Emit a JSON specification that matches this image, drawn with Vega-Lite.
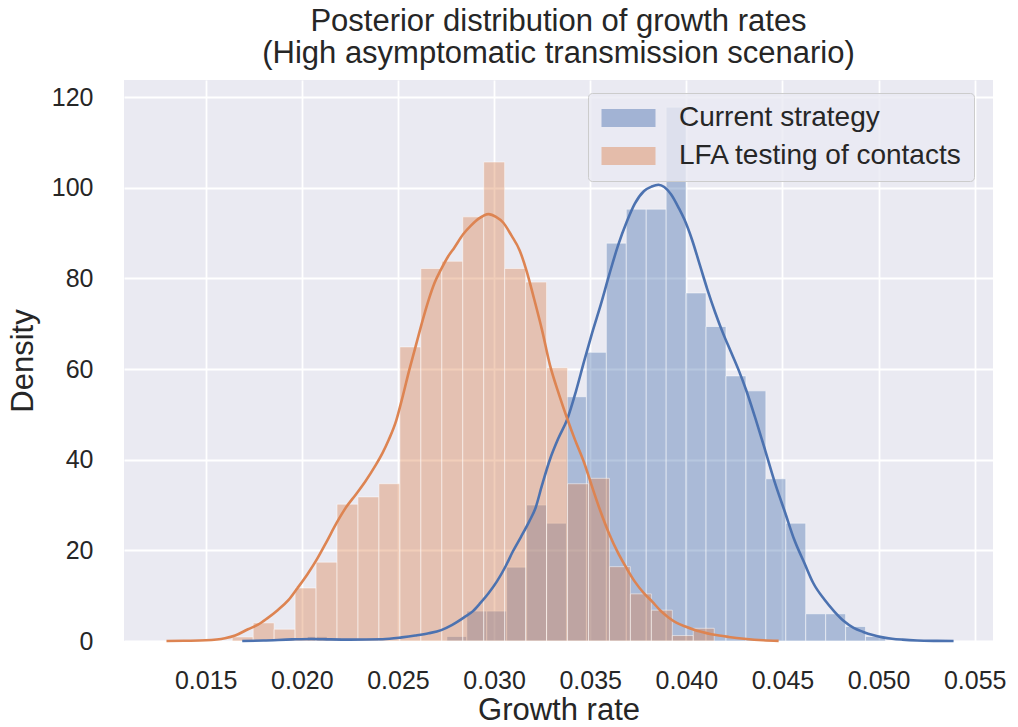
{
  "$schema": "https://vega.github.io/schema/vega-lite/v6.json",
  "autosize": {"type": "none"},
  "padding": {"left": 124, "top": 80, "right": 25, "bottom": 86},
  "width": 869,
  "height": 561,
  "background": "white",
  "title": {
    "text": ["Posterior distribution of growth rates", "(High asymptomatic transmission scenario)"],
    "font": "Liberation Sans",
    "fontSize": 31,
    "fontWeight": "normal",
    "color": "#262626",
    "lineHeight": 32,
    "offset": 10,
    "anchor": "middle"
  },
  "datasets": {
    "bars": [
      {"series": "Current strategy", "start": 0.020284, "end": 0.021321, "density": 1.0},
      {"series": "Current strategy", "start": 0.027543, "end": 0.02858, "density": 1.0},
      {"series": "Current strategy", "start": 0.02858, "end": 0.029617, "density": 6.6},
      {"series": "Current strategy", "start": 0.029617, "end": 0.030654, "density": 6.6},
      {"series": "Current strategy", "start": 0.030654, "end": 0.031691, "density": 16.3},
      {"series": "Current strategy", "start": 0.031691, "end": 0.032728, "density": 30.0},
      {"series": "Current strategy", "start": 0.032728, "end": 0.033765, "density": 26.0},
      {"series": "Current strategy", "start": 0.033765, "end": 0.034802, "density": 53.9},
      {"series": "Current strategy", "start": 0.034802, "end": 0.035839, "density": 63.7},
      {"series": "Current strategy", "start": 0.035839, "end": 0.036876, "density": 87.8},
      {"series": "Current strategy", "start": 0.036876, "end": 0.037913, "density": 95.3},
      {"series": "Current strategy", "start": 0.037913, "end": 0.03895, "density": 95.3},
      {"series": "Current strategy", "start": 0.03895, "end": 0.039987, "density": 117.8},
      {"series": "Current strategy", "start": 0.039987, "end": 0.041024, "density": 76.8},
      {"series": "Current strategy", "start": 0.041024, "end": 0.042061, "density": 69.4},
      {"series": "Current strategy", "start": 0.042061, "end": 0.043098, "density": 58.5},
      {"series": "Current strategy", "start": 0.043098, "end": 0.044135, "density": 55.2},
      {"series": "Current strategy", "start": 0.044135, "end": 0.045172, "density": 35.8},
      {"series": "Current strategy", "start": 0.045172, "end": 0.046209, "density": 26.0},
      {"series": "Current strategy", "start": 0.046209, "end": 0.047246, "density": 6.0},
      {"series": "Current strategy", "start": 0.047246, "end": 0.048283, "density": 6.0},
      {"series": "Current strategy", "start": 0.048283, "end": 0.04932, "density": 3.2},
      {"series": "Current strategy", "start": 0.04932, "end": 0.050357, "density": 1.0},
      {"series": "LFA testing of contacts", "start": 0.01638, "end": 0.01747, "density": 0.9},
      {"series": "LFA testing of contacts", "start": 0.01747, "end": 0.01856, "density": 4.0},
      {"series": "LFA testing of contacts", "start": 0.01856, "end": 0.01965, "density": 2.6},
      {"series": "LFA testing of contacts", "start": 0.01965, "end": 0.02074, "density": 11.7},
      {"series": "LFA testing of contacts", "start": 0.02074, "end": 0.02183, "density": 17.4},
      {"series": "LFA testing of contacts", "start": 0.02183, "end": 0.02292, "density": 30.2},
      {"series": "LFA testing of contacts", "start": 0.02292, "end": 0.02401, "density": 31.8},
      {"series": "LFA testing of contacts", "start": 0.02401, "end": 0.0251, "density": 34.7},
      {"series": "LFA testing of contacts", "start": 0.0251, "end": 0.02619, "density": 64.9},
      {"series": "LFA testing of contacts", "start": 0.02619, "end": 0.02728, "density": 82.2},
      {"series": "LFA testing of contacts", "start": 0.02728, "end": 0.02837, "density": 83.8},
      {"series": "LFA testing of contacts", "start": 0.02837, "end": 0.02946, "density": 93.6},
      {"series": "LFA testing of contacts", "start": 0.02946, "end": 0.03055, "density": 105.7},
      {"series": "LFA testing of contacts", "start": 0.03055, "end": 0.03164, "density": 82.2},
      {"series": "LFA testing of contacts", "start": 0.03164, "end": 0.03273, "density": 79.2},
      {"series": "LFA testing of contacts", "start": 0.03273, "end": 0.03382, "density": 60.3},
      {"series": "LFA testing of contacts", "start": 0.03382, "end": 0.03491, "density": 34.7},
      {"series": "LFA testing of contacts", "start": 0.03491, "end": 0.036, "density": 35.9},
      {"series": "LFA testing of contacts", "start": 0.036, "end": 0.03709, "density": 16.4},
      {"series": "LFA testing of contacts", "start": 0.03709, "end": 0.03818, "density": 10.4},
      {"series": "LFA testing of contacts", "start": 0.03818, "end": 0.03927, "density": 6.8},
      {"series": "LFA testing of contacts", "start": 0.03927, "end": 0.04036, "density": 1.2},
      {"series": "LFA testing of contacts", "start": 0.04036, "end": 0.04145, "density": 2.8}
    ],
    "kde": [
      {"series": "Current strategy", "x": 0.0169, "y": 0},
      {"series": "Current strategy", "x": 0.018, "y": 0.1},
      {"series": "Current strategy", "x": 0.0195, "y": 0.35},
      {"series": "Current strategy", "x": 0.0205, "y": 0.45},
      {"series": "Current strategy", "x": 0.0215, "y": 0.35},
      {"series": "Current strategy", "x": 0.0225, "y": 0.3},
      {"series": "Current strategy", "x": 0.0242, "y": 0.4},
      {"series": "Current strategy", "x": 0.0252, "y": 0.8},
      {"series": "Current strategy", "x": 0.0259, "y": 1.2},
      {"series": "Current strategy", "x": 0.0266, "y": 1.7},
      {"series": "Current strategy", "x": 0.02725, "y": 2.4},
      {"series": "Current strategy", "x": 0.0278, "y": 3.5},
      {"series": "Current strategy", "x": 0.02844, "y": 5.2},
      {"series": "Current strategy", "x": 0.0289, "y": 6.6},
      {"series": "Current strategy", "x": 0.02929, "y": 8.4},
      {"series": "Current strategy", "x": 0.0297, "y": 10.5},
      {"series": "Current strategy", "x": 0.03014, "y": 13.1},
      {"series": "Current strategy", "x": 0.0306, "y": 16.5},
      {"series": "Current strategy", "x": 0.03098, "y": 19.8},
      {"series": "Current strategy", "x": 0.0314, "y": 23.0},
      {"series": "Current strategy", "x": 0.03183, "y": 26.4},
      {"series": "Current strategy", "x": 0.03215, "y": 29.3},
      {"series": "Current strategy", "x": 0.0325, "y": 34.5},
      {"series": "Current strategy", "x": 0.0329, "y": 40.0},
      {"series": "Current strategy", "x": 0.03335, "y": 44.8},
      {"series": "Current strategy", "x": 0.03381, "y": 49.0},
      {"series": "Current strategy", "x": 0.03425, "y": 55.0},
      {"series": "Current strategy", "x": 0.03468, "y": 61.7},
      {"series": "Current strategy", "x": 0.0351, "y": 68.0},
      {"series": "Current strategy", "x": 0.03556, "y": 74.4},
      {"series": "Current strategy", "x": 0.036, "y": 81.0},
      {"series": "Current strategy", "x": 0.03644, "y": 87.2},
      {"series": "Current strategy", "x": 0.0369, "y": 92.5},
      {"series": "Current strategy", "x": 0.03732, "y": 96.5},
      {"series": "Current strategy", "x": 0.0378, "y": 99.3},
      {"series": "Current strategy", "x": 0.0382, "y": 100.3},
      {"series": "Current strategy", "x": 0.03855, "y": 100.7},
      {"series": "Current strategy", "x": 0.03885, "y": 100.2},
      {"series": "Current strategy", "x": 0.0392, "y": 98.6},
      {"series": "Current strategy", "x": 0.0396, "y": 95.6},
      {"series": "Current strategy", "x": 0.0399, "y": 93.0},
      {"series": "Current strategy", "x": 0.0403, "y": 88.5},
      {"series": "Current strategy", "x": 0.0407, "y": 83.0},
      {"series": "Current strategy", "x": 0.0411, "y": 77.5},
      {"series": "Current strategy", "x": 0.0415, "y": 72.5},
      {"series": "Current strategy", "x": 0.0419, "y": 68.0},
      {"series": "Current strategy", "x": 0.0423, "y": 64.0},
      {"series": "Current strategy", "x": 0.0427, "y": 60.0},
      {"series": "Current strategy", "x": 0.0431, "y": 55.5},
      {"series": "Current strategy", "x": 0.0436, "y": 49.0},
      {"series": "Current strategy", "x": 0.04412, "y": 41.8},
      {"series": "Current strategy", "x": 0.0446, "y": 35.0},
      {"series": "Current strategy", "x": 0.04514, "y": 28.3},
      {"series": "Current strategy", "x": 0.0456, "y": 22.5},
      {"series": "Current strategy", "x": 0.04615, "y": 17.1},
      {"series": "Current strategy", "x": 0.0466, "y": 12.8},
      {"series": "Current strategy", "x": 0.04717, "y": 9.2},
      {"series": "Current strategy", "x": 0.0477, "y": 6.5},
      {"series": "Current strategy", "x": 0.04819, "y": 4.4},
      {"series": "Current strategy", "x": 0.0487, "y": 2.9},
      {"series": "Current strategy", "x": 0.0492, "y": 2.0},
      {"series": "Current strategy", "x": 0.0497, "y": 1.3},
      {"series": "Current strategy", "x": 0.05022, "y": 0.8},
      {"series": "Current strategy", "x": 0.0507, "y": 0.5},
      {"series": "Current strategy", "x": 0.05124, "y": 0.3},
      {"series": "Current strategy", "x": 0.052, "y": 0.12},
      {"series": "Current strategy", "x": 0.053, "y": 0.03},
      {"series": "Current strategy", "x": 0.0539, "y": 0},
      {"series": "LFA testing of contacts", "x": 0.01296, "y": 0},
      {"series": "LFA testing of contacts", "x": 0.014, "y": 0.05},
      {"series": "LFA testing of contacts", "x": 0.015, "y": 0.15},
      {"series": "LFA testing of contacts", "x": 0.016, "y": 0.6},
      {"series": "LFA testing of contacts", "x": 0.01653, "y": 1.2},
      {"series": "LFA testing of contacts", "x": 0.0172, "y": 2.6},
      {"series": "LFA testing of contacts", "x": 0.01772, "y": 3.6},
      {"series": "LFA testing of contacts", "x": 0.0182, "y": 5.0},
      {"series": "LFA testing of contacts", "x": 0.01874, "y": 6.8},
      {"series": "LFA testing of contacts", "x": 0.0193, "y": 9.0},
      {"series": "LFA testing of contacts", "x": 0.01976, "y": 11.6},
      {"series": "LFA testing of contacts", "x": 0.0203, "y": 14.8},
      {"series": "LFA testing of contacts", "x": 0.02078, "y": 18.0},
      {"series": "LFA testing of contacts", "x": 0.0213, "y": 22.0},
      {"series": "LFA testing of contacts", "x": 0.0218, "y": 26.0},
      {"series": "LFA testing of contacts", "x": 0.0223, "y": 29.5},
      {"series": "LFA testing of contacts", "x": 0.02282, "y": 32.4},
      {"series": "LFA testing of contacts", "x": 0.0233, "y": 35.2},
      {"series": "LFA testing of contacts", "x": 0.02384, "y": 38.8},
      {"series": "LFA testing of contacts", "x": 0.0242, "y": 41.5},
      {"series": "LFA testing of contacts", "x": 0.02452, "y": 44.4},
      {"series": "LFA testing of contacts", "x": 0.0249, "y": 48.5},
      {"series": "LFA testing of contacts", "x": 0.0252, "y": 53.2},
      {"series": "LFA testing of contacts", "x": 0.0256, "y": 60.0},
      {"series": "LFA testing of contacts", "x": 0.02588, "y": 64.4},
      {"series": "LFA testing of contacts", "x": 0.0262, "y": 69.5},
      {"series": "LFA testing of contacts", "x": 0.02656, "y": 74.8},
      {"series": "LFA testing of contacts", "x": 0.0269, "y": 79.0},
      {"series": "LFA testing of contacts", "x": 0.02724, "y": 82.0},
      {"series": "LFA testing of contacts", "x": 0.0276, "y": 84.8},
      {"series": "LFA testing of contacts", "x": 0.02793, "y": 86.8},
      {"series": "LFA testing of contacts", "x": 0.0284, "y": 89.8},
      {"series": "LFA testing of contacts", "x": 0.02878, "y": 91.6},
      {"series": "LFA testing of contacts", "x": 0.0292, "y": 93.2},
      {"series": "LFA testing of contacts", "x": 0.02971, "y": 94.2},
      {"series": "LFA testing of contacts", "x": 0.0301, "y": 93.6},
      {"series": "LFA testing of contacts", "x": 0.03048, "y": 92.3},
      {"series": "LFA testing of contacts", "x": 0.0309, "y": 89.5},
      {"series": "LFA testing of contacts", "x": 0.03133, "y": 86.2},
      {"series": "LFA testing of contacts", "x": 0.0317, "y": 81.5},
      {"series": "LFA testing of contacts", "x": 0.03205, "y": 76.0},
      {"series": "LFA testing of contacts", "x": 0.0325, "y": 68.5},
      {"series": "LFA testing of contacts", "x": 0.0329, "y": 61.0},
      {"series": "LFA testing of contacts", "x": 0.03337, "y": 54.5},
      {"series": "LFA testing of contacts", "x": 0.03381, "y": 49.0},
      {"series": "LFA testing of contacts", "x": 0.0342, "y": 44.5},
      {"series": "LFA testing of contacts", "x": 0.03468, "y": 39.4},
      {"series": "LFA testing of contacts", "x": 0.0351, "y": 34.0},
      {"series": "LFA testing of contacts", "x": 0.03556, "y": 28.3},
      {"series": "LFA testing of contacts", "x": 0.036, "y": 23.5},
      {"series": "LFA testing of contacts", "x": 0.03644, "y": 19.5},
      {"series": "LFA testing of contacts", "x": 0.0369, "y": 16.0},
      {"series": "LFA testing of contacts", "x": 0.03732, "y": 13.1},
      {"series": "LFA testing of contacts", "x": 0.0378, "y": 10.5},
      {"series": "LFA testing of contacts", "x": 0.0382, "y": 8.8},
      {"series": "LFA testing of contacts", "x": 0.0387, "y": 6.5},
      {"series": "LFA testing of contacts", "x": 0.03907, "y": 5.2},
      {"series": "LFA testing of contacts", "x": 0.0395, "y": 4.0},
      {"series": "LFA testing of contacts", "x": 0.03995, "y": 3.2},
      {"series": "LFA testing of contacts", "x": 0.0404, "y": 2.5},
      {"series": "LFA testing of contacts", "x": 0.04082, "y": 2.0},
      {"series": "LFA testing of contacts", "x": 0.0413, "y": 1.5},
      {"series": "LFA testing of contacts", "x": 0.0417, "y": 1.2},
      {"series": "LFA testing of contacts", "x": 0.0422, "y": 0.9},
      {"series": "LFA testing of contacts", "x": 0.043, "y": 0.5},
      {"series": "LFA testing of contacts", "x": 0.044, "y": 0.15},
      {"series": "LFA testing of contacts", "x": 0.0448, "y": 0.02}
    ]
  },
  "layer": [
    {
      "data": {"name": "bars"},
      "mark": {"type": "bar", "fillOpacity": 0.4, "stroke": "white", "strokeWidth": 1, "strokeOpacity": 0.5, "cornerRadius": 0},
      "encoding": {
        "x": {"field": "start", "type": "quantitative", "title": "Growth rate",
              "scale": {"domain": [0.01075, 0.05595], "nice": false, "zero": false},
              "axis": {"values": [0.015, 0.02, 0.025, 0.03, 0.035, 0.04, 0.045, 0.05, 0.055], "format": ".3f"}},
        "x2": {"field": "end"},
        "y": {"field": "density", "type": "quantitative", "title": "Density",
              "scale": {"domain": [0, 123.8], "nice": false},
              "axis": {"values": [0, 20, 40, 60, 80, 100, 120]}},
        "y2": {"datum": 0},
        "color": {"field": "series", "type": "nominal",
                  "scale": {"domain": ["Current strategy", "LFA testing of contacts"], "range": ["#4c72b0", "#dd8452"]},
                  "legend": {
                    "title": null, "orient": "none", "legendX": 464, "legendY": 13,
                    "symbolType": "M-0.852,-0.667H3.148V0.667H-0.852Z", "symbolSize": 729,
                    "symbolOpacity": 0.45, "symbolStrokeWidth": 0,
                    "labelFont": "Liberation Sans", "labelFontSize": 28, "labelColor": "#262626",
                    "labelLimit": 0, "labelOffset": 52, "rowPadding": 10, "padding": 11,
                    "fillColor": "rgba(234,234,242,0.8)", "strokeColor": "#cccccc", "cornerRadius": 4
                  }}
      }
    },
    {
      "data": {"name": "kde"},
      "mark": {"type": "line", "strokeWidth": 2.6, "interpolate": "monotone"},
      "encoding": {
        "x": {"field": "x", "type": "quantitative"},
        "y": {"field": "y", "type": "quantitative"},
        "color": {"field": "series", "type": "nominal", "legend": null}
      }
    }
  ],
  "config": {
    "view": {"stroke": null, "fill": "#eaeaf2"},
    "axis": {
      "domain": false, "ticks": false, "grid": true, "gridColor": "white", "gridWidth": 1.8,
      "labelFont": "Liberation Sans", "labelFontSize": 25, "labelColor": "#262626",
      "titleFont": "Liberation Sans", "titleFontSize": 31, "titleFontWeight": "normal", "titleColor": "#262626"
    },
    "axisX": {"labelPadding": 27, "titlePadding": 2},
    "axisY": {"labelPadding": 31, "titlePadding": 12}
  }
}
